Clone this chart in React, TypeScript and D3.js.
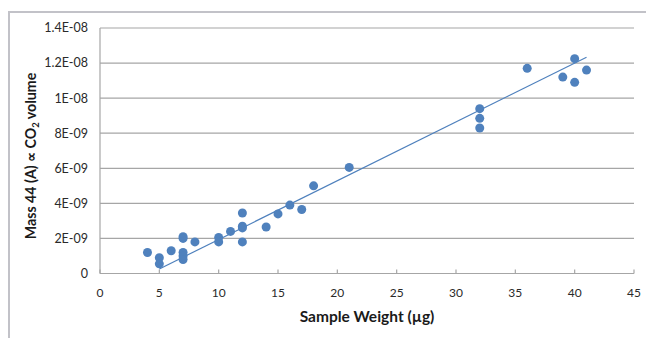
import React from "react";
import * as d3 from "d3";

const sampleWeight = [4, 5, 5, 6, 7, 7, 7, 7, 7, 8, 10, 10, 11, 12, 12, 12, 12, 14, 15, 16, 17, 18, 21, 32, 32, 32, 36, 39, 40, 40, 41];
const mass44 = [1.2e-9, 0.9e-9, 0.55e-9, 1.3e-9, 2.1e-9, 2.0e-9, 1.2e-9, 1.0e-9, 0.8e-9, 1.8e-9, 2.05e-9, 1.8e-9, 2.4e-9, 3.45e-9, 2.7e-9, 2.6e-9, 1.8e-9, 2.65e-9, 3.4e-9, 3.9e-9, 3.65e-9, 5.0e-9, 6.05e-9, 9.4e-9, 8.85e-9, 8.3e-9, 11.7e-9, 11.2e-9, 12.25e-9, 10.9e-9, 11.6e-9];
const trendX = [5, 41];
const trendY = [0.26e-9, 12.33e-9];
const xTicks = [0, 5, 10, 15, 20, 25, 30, 35, 40, 45];
const yTicks = [0, 2e-9, 4e-9, 6e-9, 8e-9, 1e-8, 1.2e-8, 1.4e-8];
const yTickLabels = ["0", "2E-09", "4E-09", "6E-09", "8E-09", "1E-08", "1.2E-08", "1.4E-08"];

export default function App() {
  const W = 646, H = 338;
  const x = d3.scaleLinear().domain([0, 45]).range([100, 634]);
  const y = d3.scaleLinear().domain([0, 1.4e-8]).range([273.5, 28]);
  const font = "Lato, 'Open Sans', sans-serif";
  const blue = "#4F81BD";
  const grid = "#A6A6A6";
  const line = d3.line<number>().x((d, i) => x(trendX[i])).y((d) => y(d));

  return (
    <svg width={W} height={H} style={{ position: "absolute", left: 0, top: 0, background: "#fff" }}>
      <rect x={9} y={12} width={800} height={500} fill="none" stroke="#C2C2C8" strokeWidth={2} />
      {yTicks.map((t, i) => (
        <line key={"g" + i} x1={x(0)} x2={x(45)} y1={y(t)} y2={y(t)} stroke={grid} strokeWidth={1.2} />
      ))}
      <line x1={x(0)} x2={x(0)} y1={y(1.4e-8)} y2={y(0)} stroke={grid} strokeWidth={1.2} />
      {xTicks.map((t, i) => (
        <line key={"xt" + i} x1={x(t)} x2={x(t)} y1={y(0) - 4} y2={y(0)} stroke={grid} strokeWidth={1.2} />
      ))}
      {yTicks.map((t, i) => (
        <text key={"yl" + i} x={88} y={y(t)} dy="0.35em" textAnchor="end" fontFamily={font} fontSize={12.5} fill="#2a2a2a">
          {yTickLabels[i]}
        </text>
      ))}
      {xTicks.map((t, i) => (
        <text key={"xl" + i} x={x(t)} y={297} textAnchor="middle" fontFamily={font} fontSize={12} fill="#2a2a2a">
          {t}
        </text>
      ))}
      <path d={line(trendY) || ""} fill="none" stroke={blue} strokeWidth={1.2} />
      {sampleWeight.map((w, i) => (
        <circle key={"p" + i} cx={x(w)} cy={y(mass44[i])} r={4.5} fill={blue} />
      ))}
      <text x={367} y={322} textAnchor="middle" fontFamily={font} fontSize={15.5} fontWeight="bold" fill="#1a1a1a">
        Sample Weight (µg)
      </text>
      <text transform="translate(35.5,156) rotate(-90)" textAnchor="middle" fontFamily={font} fontSize={14.2} fontWeight="bold" fill="#1a1a1a">
        Mass 44 (A) ∝ CO<tspan fontSize={9.5} dy={3}>2</tspan><tspan dy={-3}> volume</tspan>
      </text>
    </svg>
  );
}
